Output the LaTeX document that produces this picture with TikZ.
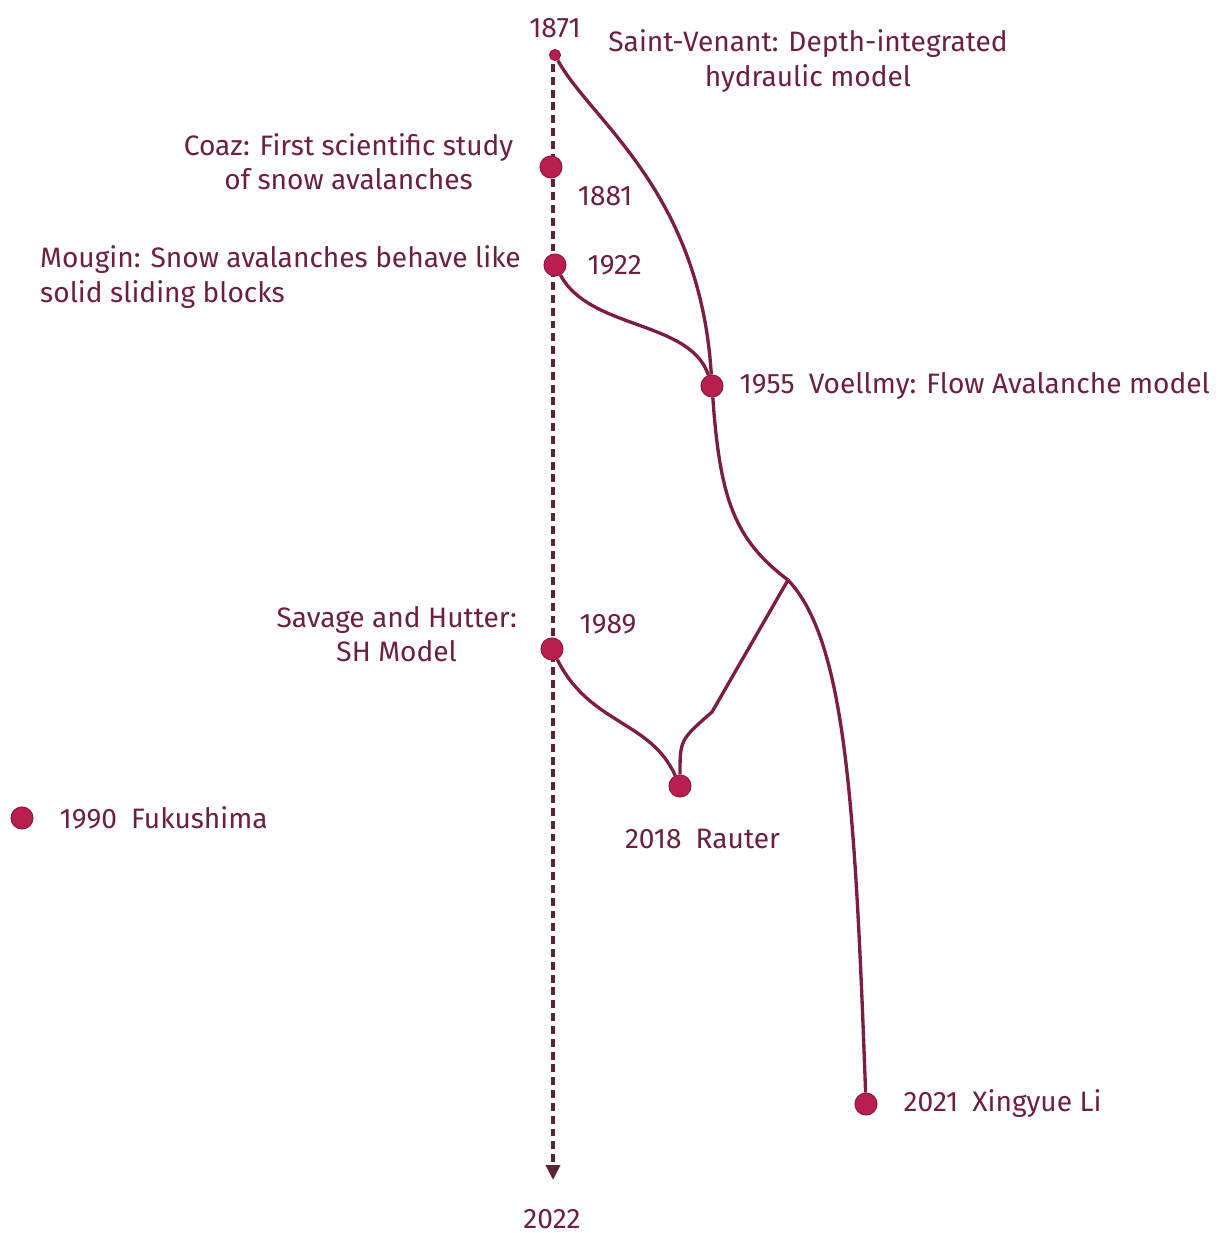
\documentclass[tikz,border=0pt]{standalone}
\usepackage{fontspec}
\setmainfont{Fira Sans}
\usetikzlibrary{positioning,arrows.meta}

\definecolor{ink}{HTML}{6E1F3F}
\definecolor{berry}{HTML}{B81E4E}
\definecolor{wine}{HTML}{7D1D45}
\definecolor{axis}{HTML}{5E2236}

\begin{document}
\begin{tikzpicture}[
            x=0.02cm, y=-0.02cm,
            every node/.style={ text=ink, font=\fontsize{16}{19.5}\selectfont },
            dot/.style={ circle, fill=berry, draw=berry!80!black, line width=0.6pt, minimum size=4.4mm, inner sep=0pt },
            smalldot/.style={ dot, minimum size=2.2mm },
            branch/.style={ wine, line width=1.9pt },
            node distance=2mm
        ]
        \useasboundingbox (0,0) rectangle (1217,1233);

        % time axis
        \node[smalldot] (venant) at (555,55) {};
        \coordinate (axisend) at (553,1180);
        \draw[axis, line width=2pt, dash pattern=on 4.5pt off 2.8pt, -{Triangle[length=3mm,width=2.8mm]}] (553,64) -- (axisend);
        \node[anchor=base, inner sep=0pt] (end) at (552,1228) {2022};

        % milestones
        \node[dot] (coaz)    at (551,167)  {};
        \node[dot] (mougin)  at (555,265)  {};
        \node[dot] (voellmy) at (712,386)  {};
        \node[dot] (savage)  at (552,649)  {};
        \node[dot] (rauter)  at (680,786)  {};
        \node[dot] (fuku)    at (22,818)   {};
        \node[dot] (li)      at (866,1104) {};
        \coordinate (split) at (788,580);

        % labels
        \node[above=1mm of venant] {1871};
        \node[align=center] at (808,61) {Saint-Venant: Depth-integrated\\hydraulic model};
        \node[align=center, left=4mm of coaz, yshift=1mm] {Coaz: First scientific study\\of snow avalanches};
        \node[below right=1mm and 2.5mm of coaz] {1881};
        \node[align=left, anchor=west] at (34,277) {Mougin: Snow avalanches behave like\\solid sliding blocks};
        \node[right=3mm of mougin] {1922};
        \node[right=2mm of voellmy] {1955\enspace Voellmy: Flow Avalanche model};
        \node[align=center, left=3.5mm of savage, yshift=3mm] {Savage and Hutter:\\SH Model};
        \node[right=2mm of savage, yshift=5mm] {1989};
        \node[below=5mm of rauter, xshift=4.5mm] {2018\enspace Rauter};
        \node[right=4mm of fuku] {1990\enspace Fukushima};
        \node[right=4mm of li] {2021\enspace Xingyue Li};

        % lines of descent
        \draw[branch] (venant) .. controls (590,120) and (700,190) .. (voellmy);
        \draw[branch] (mougin) .. controls (590,330) and (690,320) .. (voellmy);
        \draw[branch] (voellmy) .. controls (720,500) and (735,540) .. (split);
        \draw[branch] (split) .. controls (845,640) and (855,800) .. (li);
        \draw[branch] (split) -- (712,712) .. controls (680,740) .. (rauter);
        \draw[branch] (savage) .. controls (590,725) and (650,720) .. (rauter);
    \end{tikzpicture}
\end{document}
